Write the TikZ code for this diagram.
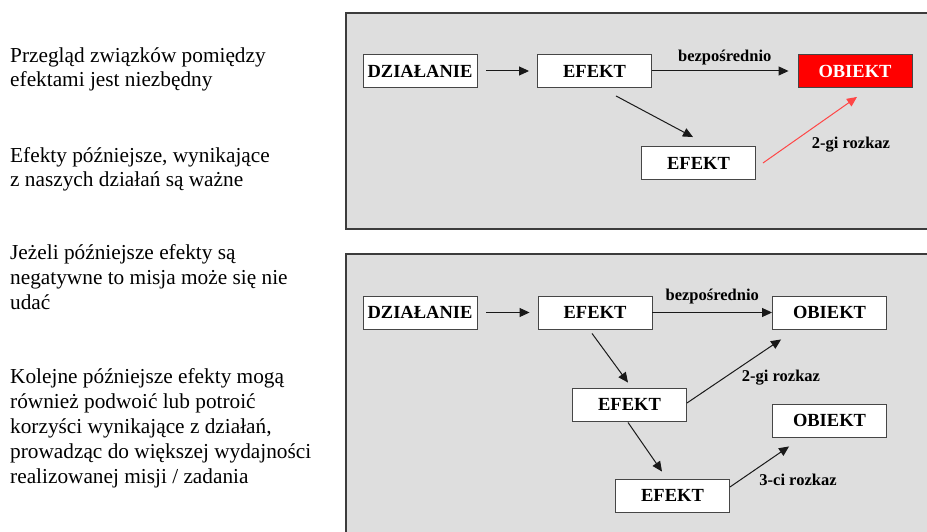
\documentclass[tikz,border=0pt]{standalone}
\usepackage{fontspec}
\setmainfont{Liberation Serif}
\usetikzlibrary{arrows.meta}

\definecolor{panelfill}{RGB}{222,222,222}
\definecolor{panelline}{RGB}{60,60,60}
\definecolor{boxline}{RGB}{70,70,70}
\definecolor{hotred}{RGB}{255,0,0}
\definecolor{linkred}{RGB}{255,70,70}

\tikzset{
  panel/.style={fill=panelfill, draw=panelline, line width=1.2pt},
  stage/.style={draw=boxline, fill=white, line width=0.9pt,
    minimum width=114pt, minimum height=33pt, inner sep=0pt,
    font=\fontsize{18.5}{20}\selectfont\bfseries},
  target/.style={stage, fill=hotred, text=white},
  link/.style={draw=black!90, line width=1pt,
    -{Triangle[length=10pt,width=9pt]}},
  hotlink/.style={link, draw=linkred, -{Triangle[length=10pt,width=9pt,fill=linkred]}},
  linklabel/.style={font=\fontsize{16.5}{18}\selectfont\bfseries, inner sep=0pt},
  % the base anchor of a multi-line note sits on its last line
  note/.style={anchor=base west, align=left, inner sep=0pt,
    font=\fontsize{21.3}{24.8}\selectfont}
}

\begin{document}
\begin{tikzpicture}[x=1pt, y=-1pt]
  \clip (0,0) rectangle (927,532);
  \fill[white] (0,0) rectangle (927,532);

  % explanatory notes on the left
  \node[note] (n1) at (10,87) {Przegląd związków pomiędzy\\efektami jest niezbędny};
  \node[note] (n2) at (10,187) {Efekty późniejsze, wynikające\\z naszych działań są ważne};
  \node[note] (n3) at (10,309) {Jeżeli późniejsze efekty są\\negatywne to misja może się nie\\udać};
  \node[note] (n4) at (10,483) {Kolejne późniejsze efekty mogą\\również podwoić lub potroić\\korzyści wynikające z działań,\\prowadząc do większej wydajności\\realizowanej misji / zadania};

  % upper panel: second-order effect
  \draw[panel] (346,13) rectangle (940,229);
  \node[stage]  (dzA)  at (420,71)    {DZIAŁANIE};
  \node[stage]  (efA)  at (594.5,71)  {EFEKT};
  \node[target] (obA)  at (855,71)    {OBIEKT};
  \node[stage]  (efA2) at (698.5,163) {EFEKT};

  \draw[link, shorten <=9pt, shorten >=8pt] (dzA.east) -- (efA.west);
  \draw[link, shorten >=9pt] (efA.east) -- node[linklabel, above=5pt] {bezpośrednio} (obA.west);
  \draw[link] ([xshift=21.5pt, yshift=-8pt]efA.south) -- ([xshift=-5.5pt, yshift=9pt]efA2.north);
  \draw[hotlink] ([xshift=7pt]efA2.east) -- ([xshift=2pt, yshift=-9pt]obA.south);
  \node[linklabel] (lblA) at (851,145) {2-gi rozkaz};

  % lower panel: second- and third-order effects
  \draw[panel] (346,254) rectangle (940,545);
  \node[stage] (dzB)  at (420,312.5)   {DZIAŁANIE};
  \node[stage] (efB)  at (595,312.5)   {EFEKT};
  \node[stage] (obB)  at (829.5,312.5) {OBIEKT};
  \node[stage] (efB2) at (629.5,404.5) {EFEKT};
  \node[stage] (obB2) at (829.5,420.5) {OBIEKT};
  \node[stage] (efB3) at (672.5,495.5) {EFEKT};

  \draw[link, shorten <=9pt, shorten >=8pt] (dzB.east) -- (efB.west);
  \draw[link] (efB.east) -- node[linklabel, above=8pt] {bezpośrednio} (obB.west);
  \draw[link] ([xshift=-3pt, yshift=-4pt]efB.south) -- ([xshift=-1.5pt, yshift=5pt]efB2.north);
  \draw[link] ([yshift=1.5pt]efB2.east) -- ([xshift=9pt, yshift=-10pt]obB.south west);
  \draw[link] ([xshift=-1.5pt, yshift=-1pt]efB2.south) -- ([xshift=-10.5pt, yshift=7pt]efB3.north);
  \draw[link] ([yshift=8.5pt]efB3.east) -- ([xshift=17pt, yshift=-9pt]obB2.south west);
  \node[linklabel] (lblB) at (781,378) {2-gi rozkaz};
  \node[linklabel] (lblC) at (798,480) {3-ci rozkaz};
\end{tikzpicture}
\end{document}
